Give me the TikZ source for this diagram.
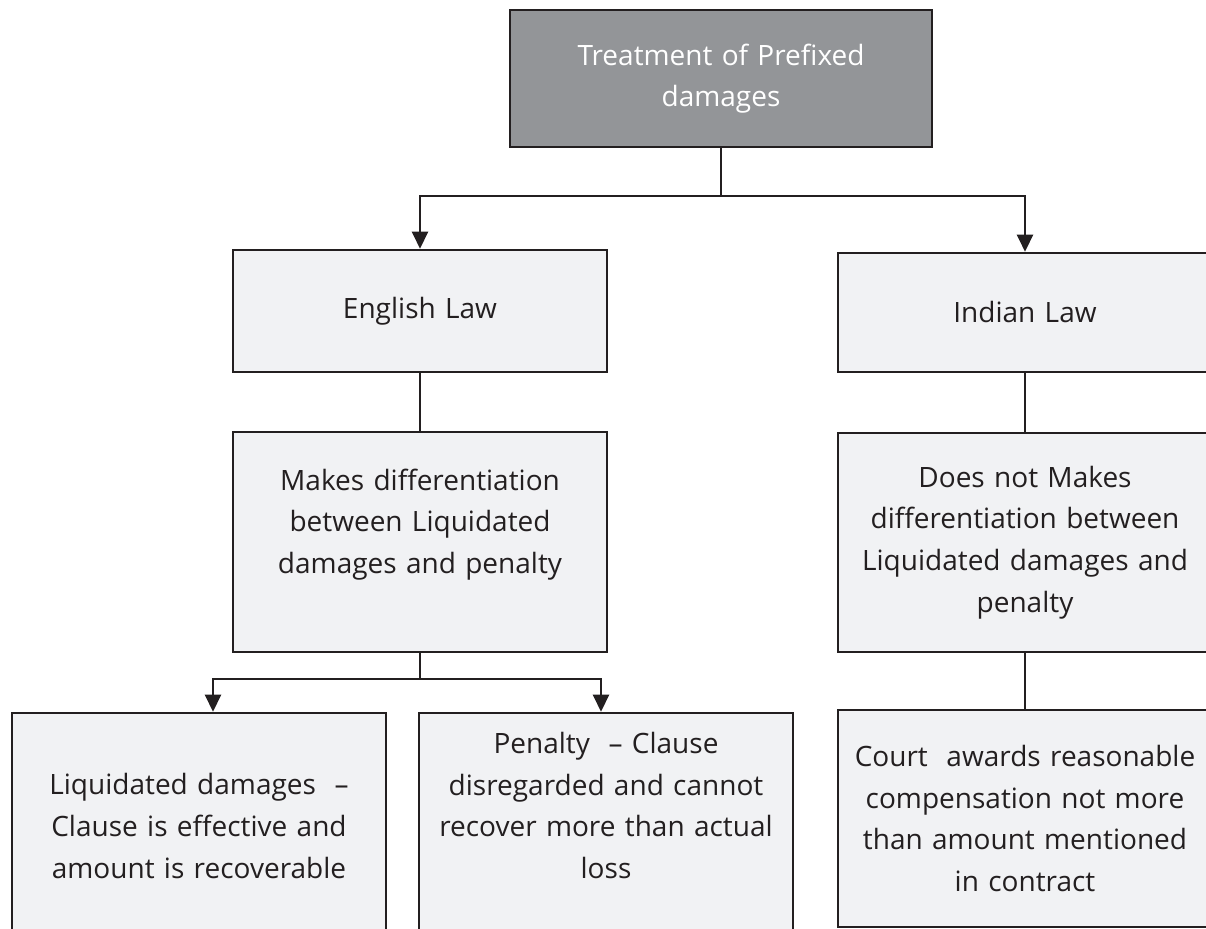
\documentclass[tikz,border=0pt]{standalone}
\usepackage{fontspec}
\setmainfont{Open Sans}
\usetikzlibrary{arrows.meta}
\definecolor{boxfill}{HTML}{F1F2F4}
\definecolor{headfill}{HTML}{939598}
\definecolor{linec}{HTML}{231F20}

\begin{document}
\begin{tikzpicture}[x=0.5pt,y=-0.5pt,
  box/.style={draw=linec, fill=boxfill, line width=1.3pt, minimum width=187pt,
    text width=180pt, align=center, inner sep=0pt, text=linec,
    font=\fontsize{14}{20.8}\selectfont},
  head/.style={box, fill=headfill, text=white, minimum width=211pt, minimum height=68.5pt},
  link/.style={draw=linec, line width=1.3pt},
  arr/.style={link, -{Triangle[length=8.5pt,width=8pt]}}]
% Parameters
\def\xL{199}; \def\xM{420}; \def\xN{606}; \def\xR{1025};
\def\yfork{196}; \def\ysub{679};

% Canvas
\useasboundingbox (0,0) rectangle (1206,929);
\clip (0,0) rectangle (1206,929);

% Boxes
\node[head] (treat) at (721,78.5) {Treatment of Prefixed\\damages};
\node[box, minimum height=61pt] (english) at (\xM,311) {English Law};
\node[box, minimum height=59.5pt] (indian) at (\xR,312.5) {Indian Law};
\node[box, minimum height=110pt] (engdiff) at (\xM,542)
  {Makes differentiation\\between Liquidated\\damages and penalty\\\mbox{}};
\node[box, minimum height=109.5pt] (inddiff) at (\xR,542.5)
  {Does not Makes\\differentiation between\\Liquidated damages and\\penalty};
\node[box, minimum height=113pt] (liquid) at (\xL,826)
  {Liquidated damages~~--\\Clause is effective and\\amount is recoverable};
\node[box, minimum height=113pt] (penalty) at (\xN,826)
  {Penalty~~-- Clause\\disregarded and cannot\\recover more than actual\\loss\\\mbox{}};
\node[box, minimum height=108.5pt] (court) at (\xR,818.5)
  {Court~ awards reasonable\\compensation not more\\than amount mentioned\\in contract};

% Connectors
\coordinate (fork) at (721,\yfork);
\coordinate (subfork) at (\xM,\ysub);
\draw[link] (treat.south) -- (fork);
\draw[arr] (fork) -| (english.north);
\draw[arr] (fork) -| (indian.north);
\draw[link] (english.south) -- (engdiff.north);
\draw[link] (engdiff.south) -- (subfork);
\draw[arr] (subfork) -| ([xshift=7pt]liquid.north);
\draw[arr] (subfork) -| ([xshift=-2.5pt]penalty.north);
\draw[link] (indian.south) -- (inddiff.north);
\draw[link] (inddiff.south) -- (court.north);
\end{tikzpicture}
\end{document}
